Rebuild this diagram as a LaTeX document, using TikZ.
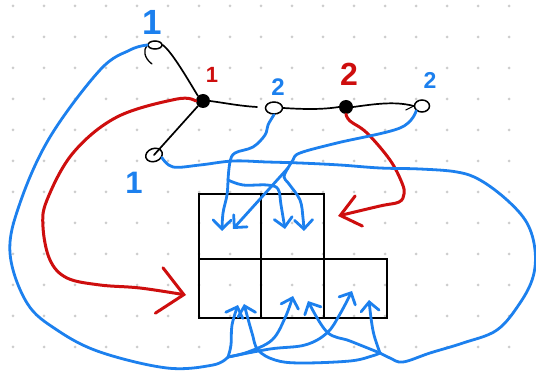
\documentclass[tikz,border=0pt]{standalone}
\usepackage{fontspec}
\setmainfont{Liberation Sans}
\usetikzlibrary{arrows.meta,shapes.geometric}
\definecolor{inkblue}{RGB}{28,128,238}
\definecolor{inkred}{RGB}{206,14,14}
\definecolor{dotgray}{RGB}{205,205,205}
\tikzset{
  ink/.style={line cap=round, line join=round},
  edgeline/.style={ink, draw=black, line width=1.7pt},
  opennode/.style={ellipse, draw=black, line width=1.5pt, fill=white, inner sep=0pt},
  solidnode/.style={circle, fill=black, inner sep=0pt, minimum size=14pt},
  cell/.style={rectangle, draw=black, line width=2.4pt, inner sep=0pt},
  blueline/.style={ink, draw=inkblue, line width=2.8pt},
  bluearrow/.style={blueline, -{Straight Barb[length=9pt,width=18pt,line cap=round]}},
  redarrow/.style={ink, draw=inkred, line width=3pt},
  bluelbl/.style={text=inkblue, inner sep=0pt, font=\bfseries},
  redlbl/.style={text=inkred, inner sep=0pt, font=\bfseries},
}
\begin{document}
\begin{tikzpicture}[x=1pt,y=-1pt]
% canvas and dotted paper
\fill[white] (0,0) rectangle (536,374);
\useasboundingbox (0,0) rectangle (536,374);
\foreach \i in {0,...,17}
  \foreach \j in {0,...,12}
    \fill[dotgray] (13+31*\i,6+31*\j) circle (1.5pt);

% the little graph
\node[opennode, minimum width=14pt, minimum height=8pt] (A1) at (155,45) {};
\node[solidnode] (C1) at (203,101) {};
\node[opennode, minimum width=17pt, minimum height=13pt, rotate=20] (B1) at (154,155) {};
\node[opennode, minimum width=17pt, minimum height=12pt] (N2) at (274,108) {};
\node[solidnode, minimum size=14pt] (M2) at (346,107) {};
\node[opennode, minimum width=15pt, minimum height=12pt] (R2) at (422,106) {};
\coordinate (Cend) at (257,107);

\draw[edgeline] (A1.east) .. controls (172,52) and (187,78) .. (C1.north west);
\draw[edgeline, line width=1.3pt] (A1.west) .. controls (143,50) and (144,58) .. (152,64);
\draw[edgeline] (C1.south west) -- (B1.center);
\draw[edgeline] (C1.east) .. controls (225,103) and (240,106) .. (Cend);
\draw[edgeline] (N2.east) .. controls (300,109) and (320,110) .. (M2.west);
\draw[edgeline] (M2.east) .. controls (375,104) and (395,101) .. (R2.west);
\draw[edgeline, line width=1.1pt] (R2.west) -- ++(-8,4);

% labels
\node[bluelbl, font=\bfseries\fontsize{35}{35}\selectfont] (lA1) at (152,22) {1};
\node[redlbl, font=\bfseries\fontsize{22}{22}\selectfont] (lC1) at (212,75) {1};
\node[bluelbl, font=\bfseries\fontsize{31}{31}\selectfont] (lB1) at (134,183) {1};
\node[bluelbl, font=\bfseries\fontsize{24}{24}\selectfont] (lN2) at (278,87) {2};
\node[redlbl, font=\bfseries\fontsize{32}{32}\selectfont] (lM2) at (349,74) {2};
\node[bluelbl, font=\bfseries\fontsize{23}{23}\selectfont] (lR2) at (430,80) {2};

% the table of cells
\node[cell, minimum width=62pt, minimum height=65pt] (t1) at (230,226.5) {};
\node[cell, minimum width=63pt, minimum height=65pt] (t2) at (292.5,226.5) {};
\node[cell, minimum width=62pt, minimum height=59pt] (b1) at (230,288.5) {};
\node[cell, minimum width=63pt, minimum height=59pt] (b2) at (292.5,288.5) {};
\node[cell, minimum width=63pt, minimum height=59pt] (b3) at (355.5,288.5) {};

% arrow tips inside the cells
\coordinate (tA) at (222,231);
\coordinate (tB) at (233,229);
\coordinate (tC) at (285,229);
\coordinate (tD) at (304,231);
\coordinate (bA) at (238,305);
\coordinate (bB) at (244,304);
\coordinate (bC) at (293,296);
\coordinate (bD) at (308,301);
\coordinate (bE) at (352,291);
\coordinate (bF) at (369,300);
% branching points of the blue strokes
\coordinate (P) at (228,357);
\coordinate (Q) at (380,353);
\coordinate (S1) at (228,180);
\coordinate (S2) at (288,168);

% red strokes
\draw[redarrow, -{Straight Barb[length=25pt,width=46pt,line cap=round]}]
  plot[smooth, tension=0.6] coordinates {(C1.west) (177,99) (117,117) (73,153) (47,200) (43,227) (50,260) (67,278) (100,285) (140,288) (186,295)};
\draw[redarrow, -{Straight Barb[length=19pt,width=31pt,line cap=round]}]
  plot[smooth, tension=0.6] coordinates {(M2.south) (350,121) (367,133) (390,160) (402,183) (404,194) (399,202) (380,206) (338,216)};

% blue strokes from the left "1" node
\draw[blueline] plot[smooth, tension=0.6] coordinates {(A1.west) (130,50) (100,70) (50,137) (20,203) (10,253) (27,303) (57,330) (100,352) (167,368) (213,365) (P)};
\draw[bluearrow] plot[smooth, tension=0.6] coordinates {(P) (231,345) (232,325) (bA)};
\draw[bluearrow] plot[smooth, tension=0.6] coordinates {(P) (248,352) (272,340) (285,318) (bC)};
\draw[bluearrow] plot[smooth, tension=0.6] coordinates {(P) (270,349) (305,345) (327,333) (340,314) (bE)};

% blue strokes from the lower "1" node
\draw[blueline] plot[smooth, tension=0.6] coordinates {(B1.south east) (173,167) (200,165) (233,161) (267,162) (300,163) (340,165) (380,168) (420,169) (457,172) (480,180) (507,200) (527,223) (535,250) (533,277) (520,303) (497,330) (463,343) (430,353) (403,362) (390,358) (Q)};
\draw[bluearrow] plot[smooth, tension=0.6] coordinates {(Q) (374,335) (371,318) (bF)};
\draw[bluearrow] plot[smooth, tension=0.6] coordinates {(Q) (350,341) (327,332) (bD)};
\draw[bluearrow] plot[smooth, tension=0.6] coordinates {(Q) (372,356) (350,361) (300,363) (275,360) (258,350) (252,333) (bB)};

% blue strokes from the "2" node next to the centre
\draw[blueline] plot[smooth, tension=0.6] coordinates {(N2.south) (268,125) (265,135) (253,147) (235,153) (230,162) (S1)};
\draw[bluearrow] plot[smooth, tension=0.6] coordinates {(S1) (227,195) (223,213) (tA)};
\draw[bluearrow] plot[smooth, tension=0.6] coordinates {(S1) (243,185) (267,185) (278,189) (281,205) (tC)};

% blue strokes from the right "2" node
\draw[blueline] plot[smooth, tension=0.6] coordinates {(R2.south west) (400,128) (337,143) (300,153) (293,160) (S2)};
\draw[bluearrow] (S2) -- (tB);
\draw[bluearrow] plot[smooth, tension=0.6] coordinates {(S2) (284,177) (289,184) (300,200) (303,218) (tD)};
\end{tikzpicture}
\end{document}
